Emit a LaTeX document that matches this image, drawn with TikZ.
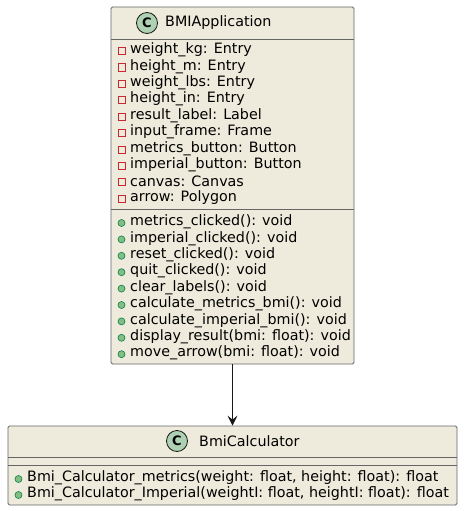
\documentclass[tikz,border=0pt]{standalone}
\usepackage{fontspec}
\setmainfont{DejaVu Sans}
\usetikzlibrary{arrows.meta}
\definecolor{boxfill}{HTML}{EEEBDC}
\definecolor{boxline}{HTML}{666666}
\definecolor{cfill}{HTML}{ADD1B2}
\definecolor{privred}{HTML}{C82930}
\definecolor{pubfill}{HTML}{84BE84}
\definecolor{publine}{HTML}{038048}
\definecolor{ink}{HTML}{181818}
\tikzset{
  classbox/.style={draw=boxline, fill=boxfill, line width=0.8pt, rounded corners=1.5pt, inner sep=0pt},
  sep/.style={draw=boxline, line width=0.8pt},
  member/.style={anchor=west, inner sep=0pt, font=\fontsize{14.3}{16}\selectfont, text=black},
  title/.style={anchor=west, inner sep=0pt, font=\fontsize{14.3}{16}\selectfont, text=black},
  cicon/.style={circle, draw=ink, fill=cfill, line width=0.8pt, minimum size=21pt, inner sep=0pt, font=\bfseries\fontsize{13}{15}\selectfont},
  priv/.style={draw=privred, line width=0.8pt, minimum size=7pt, inner sep=0pt, fill=none},
  pub/.style={circle, draw=publine, fill=pubfill, line width=0.6pt, minimum size=7pt, inner sep=0pt},
  assoc/.style={draw=ink, line width=0.9pt, -{Stealth[length=10pt,width=10pt,inset=4pt]}}
}
\begin{document}
\begin{tikzpicture}[x=1pt,y=-1pt]
\useasboundingbox (0,0) rectangle (463,511);
% BMIApplication
\node[classbox, minimum width=243pt, minimum height=357pt] (app) at (232.5,185.5) {};
\draw[sep] (111,39) -- (354,39);
\draw[sep] (111,209) -- (354,209);
\node[cicon] (appc) at (147,23) {C};
\node[title] (appt) at (165,23) {BMIApplication};
\foreach \t [count=\i] in {weight\_kg: Entry, height\_m: Entry, weight\_lbs: Entry, height\_in: Entry, result\_label: Label, input\_frame: Frame, metrics\_button: Button, imperial\_button: Button, canvas: Canvas, arrow: Polygon}{
  \node[priv] (ap\i) at (121.5,{51+(\i-1)*16.4}) {};
  \node[member] (at\i) at (130,{50+(\i-1)*16.4}) {\t};
}
\foreach \t [count=\i] in {metrics\_clicked(): void, imperial\_clicked(): void, reset\_clicked(): void, quit\_clicked(): void, clear\_labels(): void, calculate\_metrics\_bmi(): void, calculate\_imperial\_bmi(): void, display\_result(bmi: float): void, move\_arrow(bmi: float): void}{
  \node[pub] (mp\i) at (121.5,{223+(\i-1)*16.4}) {};
  \node[member] (mt\i) at (130,{222+(\i-1)*16.4}) {\t};
}
% BmiCalculator
\node[classbox, minimum width=449pt, minimum height=79pt] (calc) at (232.5,465.5) {};
\draw[sep] (8,457) -- (457,457);
\draw[sep] (8,465) -- (457,465);
\node[cicon] (calcc) at (177,441) {C};
\node[title] (calct) at (199,441) {BmiCalculator};
\node[pub] (cp1) at (18.5,479) {};
\node[member] (ct1) at (27,478) {Bmi\_Calculator\_metrics(weight: float, height: float): float};
\node[pub] (cp2) at (18.5,495) {};
\node[member] (ct2) at (27,494) {Bmi\_Calculator\_Imperial(weightI: float, heightI: float): float};
% association
\draw[assoc] (app.south) -- (calc.north);
\end{tikzpicture}
\end{document}
